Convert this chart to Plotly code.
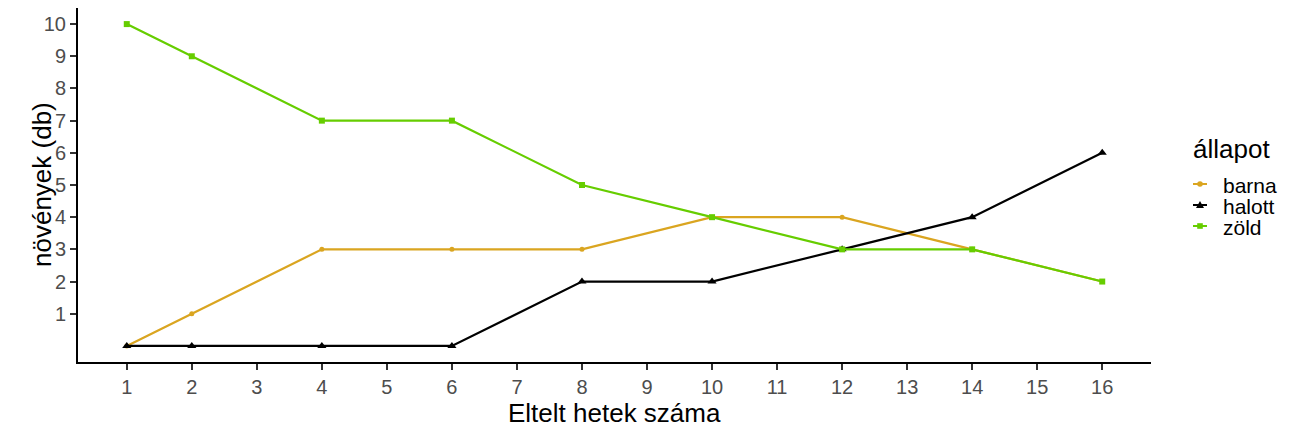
import plotly.graph_objects as go

weeks = [1, 2, 4, 6, 8, 10, 12, 14, 16]
barna = [0, 1, 3, 3, 3, 4, 4, 3, 2]
halott = [0, 0, 0, 0, 2, 2, 3, 4, 6]
zold = [10, 9, 7, 7, 5, 4, 3, 3, 2]
x_ticks = list(range(1, 17))
y_ticks = list(range(1, 11))

series = [
    ("barna", barna, "#DAA520", "circle", 5),
    ("halott", halott, "#000000", "triangle-up", 8),
    ("zöld", zold, "#66CD00", "square", 6),
]

# plot area in page pixels (page has 8px body offset)
PL, PR, PT, PB = 78, 1151, 8, 362
PW, PH = PR - PL, PB - PT


def xp(px):
    return (px - PL) / PW


def yp(py):
    return (PB - py) / PH


fig = go.Figure()
for name, vals, color, sym, sz in series:
    fig.add_trace(go.Scatter(
        x=weeks, y=vals, name=name, mode="lines+markers",
        line=dict(color=color, width=2.2),
        marker=dict(symbol=sym, size=sz, color=color),
        showlegend=False,
    ))

font_family = "Liberation Sans, Arial, sans-serif"
annotations = [
    dict(text="Eltelt hetek száma", xref="paper", yref="paper", x=0.5, y=yp(413),
         xanchor="center", yanchor="middle", showarrow=False,
         font=dict(size=26, color="black")),
    dict(text="növények (db)", xref="paper", yref="paper", x=xp(42), y=0.5,
         xanchor="center", yanchor="middle", showarrow=False, textangle=-90,
         font=dict(size=26, color="black")),
    dict(text="állapot", xref="paper", yref="paper", x=xp(1191), y=yp(149),
         xanchor="left", yanchor="middle", showarrow=False,
         font=dict(size=26, color="black")),
]

shapes = []
leg_y = [184, 205, 226]
for (name, vals, color, sym, sz), ly in zip(series, leg_y):
    annotations.append(dict(text=name, xref="paper", yref="paper", x=xp(1221), y=yp(ly + 1),
                            xanchor="left", yanchor="middle", showarrow=False,
                            font=dict(size=21, color="black")))
    shapes.append(dict(type="line", xref="paper", yref="paper",
                       x0=xp(1193), x1=xp(1207), y0=yp(ly), y1=yp(ly),
                       line=dict(color=color, width=2)))
    cx, h = 1200, 2.8
    if sym == "circle":
        shapes.append(dict(type="circle", xref="paper", yref="paper",
                           x0=xp(cx - h), x1=xp(cx + h), y0=yp(ly + h), y1=yp(ly - h),
                           fillcolor=color, line=dict(width=0)))
    elif sym == "square":
        shapes.append(dict(type="rect", xref="paper", yref="paper",
                           x0=xp(cx - h), x1=xp(cx + h), y0=yp(ly + h), y1=yp(ly - h),
                           fillcolor=color, line=dict(width=0)))
    else:
        path = "M {:.5f},{:.5f} L {:.5f},{:.5f} L {:.5f},{:.5f} Z".format(
            xp(cx - 4), yp(ly + 3), xp(cx + 4), yp(ly + 3), xp(cx), yp(ly - 4))
        shapes.append(dict(type="path", xref="paper", yref="paper", path=path,
                           fillcolor=color, line=dict(width=0)))

fig.update_layout(
    width=1295, height=432,
    margin=dict(l=70, r=152, t=0, b=78),
    plot_bgcolor="white", paper_bgcolor="white",
    font=dict(family=font_family),
    showlegend=False,
    xaxis=dict(
        range=[0.25, 16.75], tickmode="array", tickvals=x_ticks,
        ticks="outside", ticklen=6, tickwidth=1.5, tickcolor="#333333",
        showline=True, linecolor="black", linewidth=2, showgrid=False, zeroline=False,
        tickfont=dict(size=20, color="#4D4D4D"),
    ),
    yaxis=dict(
        range=[-0.5, 10.5], tickmode="array", tickvals=y_ticks,
        ticks="outside", ticklen=6, tickwidth=1.5, tickcolor="#333333",
        showline=True, linecolor="black", linewidth=2, showgrid=False, zeroline=False,
        tickfont=dict(size=20, color="#4D4D4D"),
    ),
    annotations=annotations,
    shapes=shapes,
)

fig.write_html("out.html")
